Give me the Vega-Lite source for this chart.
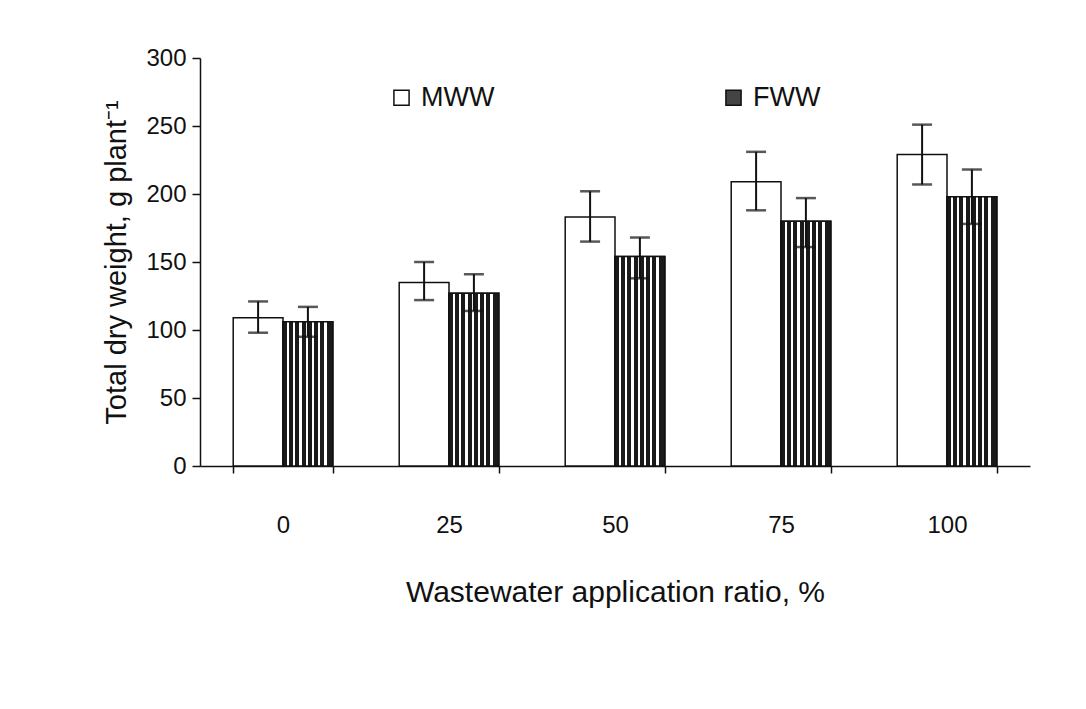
{
  "$schema": "https://vega.github.io/schema/vega-lite/v6.json",
  "width": 830,
  "height": 408,
  "autosize": {"type": "none"},
  "padding": {"left": 200, "top": 58, "right": 56, "bottom": 243},
  "background": "white",
  "config": {
    "font": "Liberation Sans",
    "view": {"stroke": null},
    "axis": {"domainColor": "#111", "tickColor": "#111", "labelColor": "#111", "titleColor": "#111", "grid": false, "titleFontWeight": "normal", "domainWidth": 1.5, "tickWidth": 1.5}
  },
  "data": {
    "values": [
      {"ratio": "0", "series": "MWW", "mean": 109, "lo": 98, "hi": 121},
      {"ratio": "25", "series": "MWW", "mean": 135, "lo": 122, "hi": 150},
      {"ratio": "50", "series": "MWW", "mean": 183, "lo": 165, "hi": 202},
      {"ratio": "75", "series": "MWW", "mean": 209, "lo": 188, "hi": 231},
      {"ratio": "100", "series": "MWW", "mean": 229, "lo": 207, "hi": 251},
      {"ratio": "0", "series": "FWW", "mean": 106, "lo": 95, "hi": 117},
      {"ratio": "25", "series": "FWW", "mean": 127, "lo": 114, "hi": 141},
      {"ratio": "50", "series": "FWW", "mean": 154, "lo": 138, "hi": 168},
      {"ratio": "75", "series": "FWW", "mean": 180, "lo": 161, "hi": 197},
      {"ratio": "100", "series": "FWW", "mean": 198, "lo": 178, "hi": 218}
    ]
  },
  "encoding": {
    "x": {
      "field": "ratio", "type": "nominal", "sort": ["0", "25", "50", "75", "100"],
      "scale": {"paddingInner": 0.4, "paddingOuter": 0.2},
      "axis": {"title": "Wastewater application ratio, %", "labelAngle": 0, "labelFontSize": 24, "labelPadding": 40, "tickBand": "extent", "tickSize": 7, "titleFontSize": 30, "titlePadding": 40}
    },
    "xOffset": {"field": "series", "type": "nominal", "scale": {"domain": ["MWW", "FWW"], "paddingInner": 0, "paddingOuter": 0}}
  },
  "layer": [
    {
      "mark": {"type": "bar", "stroke": "#111", "strokeWidth": 1.5},
      "encoding": {
        "y": {"field": "mean", "type": "quantitative", "scale": {"domain": [0, 300]},
          "axis": {"title": "Total dry weight, g plant⁻¹", "values": [0, 50, 100, 150, 200, 250, 300], "labelFontSize": 24, "labelPadding": 6, "tickSize": 8, "titleFontSize": 29, "titlePadding": 14}},
        "fill": {"field": "series", "type": "nominal", "scale": {"domain": ["MWW", "FWW"], "range": ["#ffffff", "#444444"]},
          "legend": {"title": null, "orient": "none", "direction": "horizontal", "legendX": 188, "legendY": 26, "symbolType": "square", "symbolSize": 230, "symbolStrokeColor": "#111", "symbolStrokeWidth": 1.5, "labelFontSize": 27, "labelColor": "#111", "columnPadding": 225, "labelOffset": 6}}
      }
    },
    {
      "transform": [{"filter": "datum.series === 'FWW'"}],
      "mark": {"type": "bar", "stroke": "#111", "strokeWidth": 1.5,
        "fill": {"gradient": "linear", "x1": 0, "x2": 1, "y1": 0, "y2": 0, "stops": [
          {"offset": 0, "color": "#1a1a1a"}, {"offset": 0.08, "color": "#1a1a1a"}, {"offset": 0.08, "color": "#ffffff"}, {"offset": 0.125, "color": "#ffffff"},
          {"offset": 0.125, "color": "#1a1a1a"}, {"offset": 0.205, "color": "#1a1a1a"}, {"offset": 0.205, "color": "#ffffff"}, {"offset": 0.25, "color": "#ffffff"},
          {"offset": 0.25, "color": "#1a1a1a"}, {"offset": 0.33, "color": "#1a1a1a"}, {"offset": 0.33, "color": "#ffffff"}, {"offset": 0.375, "color": "#ffffff"},
          {"offset": 0.375, "color": "#1a1a1a"}, {"offset": 0.455, "color": "#1a1a1a"}, {"offset": 0.455, "color": "#ffffff"}, {"offset": 0.5, "color": "#ffffff"},
          {"offset": 0.5, "color": "#1a1a1a"}, {"offset": 0.58, "color": "#1a1a1a"}, {"offset": 0.58, "color": "#ffffff"}, {"offset": 0.625, "color": "#ffffff"},
          {"offset": 0.625, "color": "#1a1a1a"}, {"offset": 0.705, "color": "#1a1a1a"}, {"offset": 0.705, "color": "#ffffff"}, {"offset": 0.75, "color": "#ffffff"},
          {"offset": 0.75, "color": "#1a1a1a"}, {"offset": 0.83, "color": "#1a1a1a"}, {"offset": 0.83, "color": "#ffffff"}, {"offset": 0.875, "color": "#ffffff"},
          {"offset": 0.875, "color": "#1a1a1a"}, {"offset": 1, "color": "#1a1a1a"}
        ]}},
      "encoding": {
        "y": {"field": "mean", "type": "quantitative"}
      }
    },
    {
      "mark": {"type": "rule", "color": "#111", "strokeWidth": 2},
      "encoding": {
        "y": {"field": "lo", "type": "quantitative"},
        "y2": {"field": "hi"}
      }
    },
    {
      "mark": {"type": "tick", "color": "#111", "thickness": 2.5, "size": 20},
      "encoding": {
        "y": {"field": "lo", "type": "quantitative"}
      }
    },
    {
      "mark": {"type": "tick", "color": "#111", "thickness": 2.5, "size": 20},
      "encoding": {
        "y": {"field": "hi", "type": "quantitative"}
      }
    }
  ]
}
